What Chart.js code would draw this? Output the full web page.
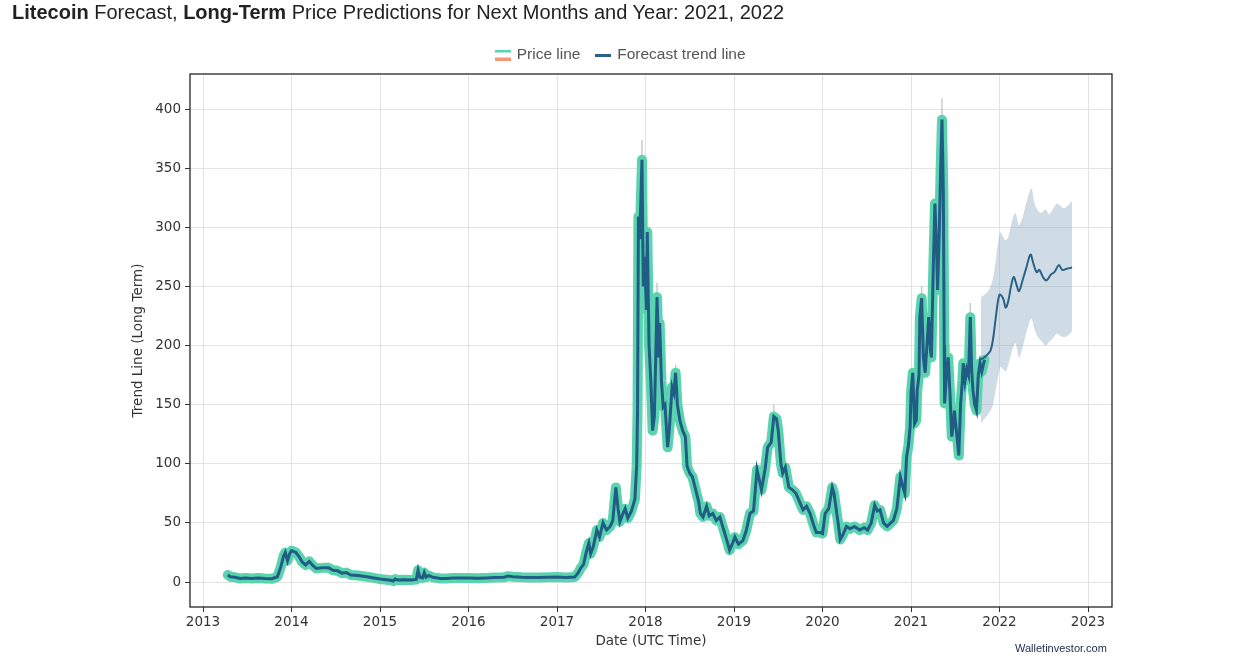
<!DOCTYPE html>
<html>
<head>
<meta charset="utf-8">
<script src="https://cdn.jsdelivr.net/npm/chart.js@4.4.1/dist/chart.umd.min.js"></script>
<style>
  html, body { margin:0; padding:0; background:#fff; width:1249px; height:668px; overflow:hidden; }
  #wrap { position:relative; width:1249px; height:668px; }
  #title { position:absolute; left:12px; top:0px; font:20px/24px "Liberation Sans", Arial, sans-serif; color:#222; white-space:nowrap; }
  #title b { font-weight:bold; }
  #brand { position:absolute; left:1015px; top:640.5px; font:11px/14px "Liberation Sans", Arial, sans-serif; color:#1b2a4a; }
  canvas { position:absolute; left:0; top:0; }
</style>
</head>
<body>
<div id="wrap">
  <canvas id="c" width="1249" height="668"></canvas>
  <div id="title"><b>Litecoin</b> Forecast, <b>Long-Term</b> Price Predictions for Next Months and Year: 2021, 2022</div>
  <div id="brand">Walletinvestor.com</div>
</div>
<script>
// ---------- DATA ----------
const yearTicks = [2013, 2014, 2015, 2016, 2017, 2018, 2019, 2020, 2021, 2022, 2023];
const valueTicks = [0, 50, 100, 150, 200, 250, 300, 350, 400];

const priceX = [
  2013.28, 2013.31, 2013.36, 2013.42, 2013.48, 2013.55, 2013.62, 2013.70, 2013.78, 2013.84,
  2013.88, 2013.91, 2013.93, 2013.955, 2013.98, 2014.00, 2014.05, 2014.09, 2014.12, 2014.16,
  2014.20, 2014.24, 2014.28, 2014.35, 2014.42, 2014.47, 2014.52, 2014.57, 2014.62, 2014.67,
  2014.75, 2014.85, 2014.93, 2015.00, 2015.07, 2015.12, 2015.15, 2015.17, 2015.20, 2015.28,
  2015.35, 2015.41, 2015.43, 2015.45, 2015.48, 2015.50, 2015.52, 2015.55, 2015.60, 2015.68,
  2015.75, 2015.83, 2015.90, 2016.00, 2016.10, 2016.20, 2016.30, 2016.40, 2016.45, 2016.50,
  2016.60, 2016.70, 2016.80, 2016.90, 2017.00, 2017.10, 2017.20, 2017.24, 2017.27, 2017.30,
  2017.33, 2017.36, 2017.38, 2017.41, 2017.45, 2017.48, 2017.52, 2017.56, 2017.60, 2017.63,
  2017.665, 2017.69, 2017.71, 2017.74, 2017.77, 2017.80, 2017.84, 2017.88, 2017.90, 2017.91,
  2017.92, 2017.935, 2017.96, 2017.975, 2017.99, 2018.01, 2018.02, 2018.04, 2018.06, 2018.08,
  2018.10, 2018.12, 2018.13, 2018.15, 2018.16, 2018.18, 2018.20, 2018.22, 2018.25, 2018.27,
  2018.30, 2018.32, 2018.34, 2018.36, 2018.39, 2018.42, 2018.45, 2018.47, 2018.50, 2018.53,
  2018.56, 2018.60, 2018.62, 2018.65, 2018.69, 2018.72, 2018.76, 2018.80, 2018.84, 2018.88,
  2018.92, 2018.95, 2018.98, 2019.01, 2019.05, 2019.10, 2019.14, 2019.18, 2019.22, 2019.26,
  2019.29, 2019.31, 2019.35, 2019.38, 2019.42, 2019.45, 2019.48, 2019.50, 2019.53, 2019.55,
  2019.58, 2019.62, 2019.66, 2019.70, 2019.74, 2019.78, 2019.82, 2019.86, 2019.90, 2019.93,
  2019.97, 2020.00, 2020.03, 2020.07, 2020.11, 2020.13, 2020.15, 2020.18, 2020.20, 2020.23,
  2020.27, 2020.31, 2020.36, 2020.42, 2020.47, 2020.51, 2020.55, 2020.59, 2020.62, 2020.65,
  2020.69, 2020.73, 2020.77, 2020.80, 2020.84, 2020.88, 2020.91, 2020.93, 2020.95, 2020.97,
  2020.99, 2021.00, 2021.02, 2021.04, 2021.06, 2021.07, 2021.09, 2021.10, 2021.12, 2021.14,
  2021.16, 2021.18, 2021.20, 2021.22, 2021.23, 2021.25, 2021.27, 2021.29, 2021.30, 2021.32,
  2021.335, 2021.35, 2021.365, 2021.375, 2021.38, 2021.40, 2021.42, 2021.44, 2021.46, 2021.48,
  2021.49, 2021.51, 2021.53, 2021.54, 2021.56, 2021.58, 2021.59, 2021.61, 2021.63, 2021.65,
  2021.67, 2021.685, 2021.70, 2021.72, 2021.74, 2021.76, 2021.78, 2021.80, 2021.83
];
const priceY = [
  6, 4.5, 4, 3, 3.5, 3, 3.5, 3, 2.8, 4.5,
  13, 22, 25, 18, 24, 26.5, 25, 21, 17, 14.5,
  17.5, 14, 11.5, 12, 12, 10, 9.5, 7.5, 8, 6,
  5.5, 4.5, 3.5, 2.5, 2, 1.5, 0.8, 2.5, 1.8, 2,
  1.8, 2.2, 10, 4, 3.5, 8, 4, 5.5, 4, 3,
  3, 3.5, 3.5, 3.5, 3.3, 3.5, 3.8, 4, 5, 4.5,
  4, 3.8, 3.8, 4, 4.2, 3.8, 4.2, 8, 12, 15,
  25, 33, 24, 30, 44, 38, 50, 44, 47, 52,
  80, 62, 51, 57, 62, 54, 60, 70, 98, 145,
  309, 290, 357, 250, 275, 230, 296, 200, 170, 128,
  140, 205, 241, 190, 219, 170, 148, 150, 114, 130,
  165, 160, 177, 150, 136, 128, 123, 98, 92, 89,
  80, 68, 58, 55, 64, 56, 58, 52, 55, 45,
  35, 27, 32, 38, 32, 35, 44, 58, 60, 95,
  85, 78, 95, 114, 118, 140, 138, 128, 100, 92,
  97, 80, 78, 75, 68, 61, 64, 58, 48, 42,
  42, 41, 58, 62, 80, 75, 64, 48, 36, 40,
  47, 45, 47, 44, 46, 44, 50, 65, 60, 61,
  50, 47, 50, 52, 62, 89, 80, 75, 106, 115,
  131, 160, 177, 134, 137, 162, 175, 224, 240, 190,
  177, 200, 224, 196, 190, 260, 320, 280, 247, 298,
  350, 391, 331, 200, 151, 175, 190, 160, 123, 135,
  145, 130, 115, 107, 150, 170, 185, 170, 180, 175,
  224, 180, 162, 150, 145, 175, 185, 178, 188
];

// faint high wicks above the main peaks (start/end pairs, null = gap)
const wickX = [2017.96, 2017.96, 2017.97, 2018.13, 2018.13, 2018.14, 2018.34, 2018.34, 2018.35,
               2019.45, 2019.45, 2019.46, 2021.12, 2021.12, 2021.13, 2021.35, 2021.35, 2021.36,
               2021.67, 2021.67];
const wickY = [357, 374, null, 241, 253, null, 177, 184, null,
               140, 150, null, 240, 250, null, 391, 409, null,
               224, 236];

const forecastX = [
  2021.78, 2021.83, 2021.87, 2021.90, 2021.93, 2021.96, 2022.00, 2022.04, 2022.07, 2022.10,
  2022.13, 2022.16, 2022.19, 2022.22, 2022.26, 2022.30, 2022.35, 2022.38, 2022.42, 2022.45,
  2022.49, 2022.53, 2022.58, 2022.62, 2022.67, 2022.71, 2022.76, 2022.82
];
const forecastY = [
  188, 190, 193, 196, 207, 225, 243, 240, 232, 238,
  250, 258, 252, 246, 255, 265, 277, 270, 262, 264,
  258, 255, 260, 262, 268, 264, 265, 266
];

const bandX = [
  2021.79, 2021.83, 2021.88, 2021.92, 2021.95, 2021.98, 2022.01, 2022.04, 2022.07, 2022.10,
  2022.14, 2022.18, 2022.22, 2022.26, 2022.30, 2022.36, 2022.39, 2022.42, 2022.47, 2022.52,
  2022.56, 2022.60, 2022.65, 2022.69, 2022.73, 2022.78, 2022.82
];
const bandUpper = [
  241, 243, 247, 255, 268, 285, 296, 292, 289, 292,
  305, 312, 302, 308, 320, 333, 322, 316, 312, 315,
  311, 315, 320, 318, 316, 319, 322
];
const bandLower = [
  134, 138, 143, 148, 160, 172, 182, 180, 178, 184,
  195, 202, 190, 198, 210, 223, 215, 209, 204, 200,
  203, 206, 210, 208, 207, 209, 212
];

// ---------- HELPERS ----------
const pts = (xs, ys) => xs.map((x, i) => ({ x: x, y: ys[i] }));

const TEAL = '#5cd3af';
const ORANGE = '#f59677';
const DARK = '#1f5d85';
const FORE = '#2a6286';

function swatchPrice() {
  const c = document.createElement('canvas');
  c.width = 16; c.height = 11;
  const g = c.getContext('2d');
  g.fillStyle = TEAL; g.fillRect(0, 0, 16, 3);
  g.fillStyle = ORANGE; g.fillRect(0, 8, 16, 3);
  return c;
}
function swatchForecast() {
  const c = document.createElement('canvas');
  c.width = 16; c.height = 3;
  const g = c.getContext('2d');
  g.fillStyle = FORE; g.fillRect(0, 0, 16, 3);
  return c;
}

const frame = {
  id: 'frame',
  afterDatasetsDraw(chart) {
    const a = chart.chartArea, ctx = chart.ctx;
    ctx.save();
    ctx.strokeStyle = '#262626';
    ctx.lineWidth = 1.3;
    ctx.strokeRect(a.left, a.top, a.right - a.left, a.bottom - a.top);
    ctx.restore();
  }
};

const tickFont = { family: '"DejaVu Sans", sans-serif', size: 13.5 };

new Chart(document.getElementById('c'), {
  type: 'line',
  data: {
    datasets: [
      { label: 'band upper', data: pts(bandX, bandUpper), fill: '+1', backgroundColor: 'rgba(120,155,180,0.35)', borderWidth: 0, pointRadius: 0, tension: 0.3, order: 5 },
      { label: 'band lower', data: pts(bandX, bandLower), fill: false, borderWidth: 0, pointRadius: 0, tension: 0.3, order: 6 },
      { label: 'high', data: pts(wickX, wickY), borderColor: 'rgba(160,160,160,0.55)', borderWidth: 1.5, pointRadius: 0, fill: false, spanGaps: false, order: 4 },
      { label: 'Price line', data: pts(priceX, priceY), borderColor: TEAL, borderWidth: 10, borderJoinStyle: 'round', borderCapStyle: 'round', pointRadius: 0, fill: false, order: 3 },
      { label: 'Price line dark', data: pts(priceX, priceY), borderColor: DARK, borderWidth: 3, pointRadius: 0, fill: false, order: 2 },
      { label: 'Forecast trend line', data: pts(forecastX, forecastY), borderColor: FORE, borderWidth: 2, pointRadius: 0, fill: false, tension: 0.35, order: 1 }
    ]
  },
  options: {
    responsive: false,
    animation: false,
    devicePixelRatio: 1,
    parsing: true,
    layout: { padding: { left: 130.6, right: 137, top: 30.25, bottom: 14.5 } },
    plugins: {
      tooltip: { enabled: false },
      legend: {
        position: 'top',
        align: 'center',
        labels: {
          usePointStyle: true,
          pointStyleWidth: 12,
          padding: 17,
          color: '#555',
          font: { family: '"Liberation Sans", Arial, sans-serif', size: 15.5 },
          generateLabels: () => [
            { text: 'Price line', pointStyle: swatchPrice(), fillStyle: TEAL, strokeStyle: TEAL, lineWidth: 0, hidden: false, datasetIndex: 3, fontColor: '#555' },
            { text: 'Forecast trend line', pointStyle: swatchForecast(), fillStyle: FORE, strokeStyle: FORE, lineWidth: 0, hidden: false, datasetIndex: 5, fontColor: '#555' }
          ]
        }
      }
    },
    scales: {
      x: {
        type: 'linear',
        position: 'bottom',
        min: 2012.853,
        max: 2023.271,
        afterBuildTicks: s => { s.ticks = yearTicks.map(v => ({ value: v })); },
        afterFit: s => { s.height = 46.5; },
        ticks: { color: '#333', font: tickFont, padding: 2, maxRotation: 0, autoSkip: false,
                 callback: (v) => String(yearTicks.find(t => t === v)) },
        grid: { color: '#e3e3e3', lineWidth: 1, tickColor: '#333', tickLength: 5, drawTicks: true },
        border: { display: false },
        title: { display: true, text: 'Date (UTC Time)', color: '#333', font: { family: '"DejaVu Sans", sans-serif', size: 13.5 }, padding: { top: 0, bottom: 4 } }
      },
      x2: {
        type: 'linear',
        position: 'top',
        display: true,
        min: 0, max: 1,
        ticks: { display: false },
        grid: { display: false, drawTicks: false },
        border: { display: false },
        afterFit: s => { s.height = 1.25; }
      },
      y: {
        type: 'linear',
        position: 'left',
        min: -21.1,
        max: 429.6,
        afterBuildTicks: s => { s.ticks = valueTicks.map(v => ({ value: v })); },
        afterFit: s => { s.width = 59.4; },
        ticks: { color: '#333', font: tickFont, padding: 4, autoSkip: false,
                 callback: (v) => String(valueTicks.find(t => t === v)) },
        grid: { color: '#e3e3e3', lineWidth: 1, tickColor: '#333', tickLength: 5, drawTicks: true },
        border: { display: false },
        title: { display: true, text: 'Trend Line (Long Term)', color: '#333', font: { family: '"DejaVu Sans", sans-serif', size: 13.5 }, padding: { top: 0, bottom: 0 } }
      }
    }
  },
  plugins: [frame]
});
</script>
</body>
</html>
